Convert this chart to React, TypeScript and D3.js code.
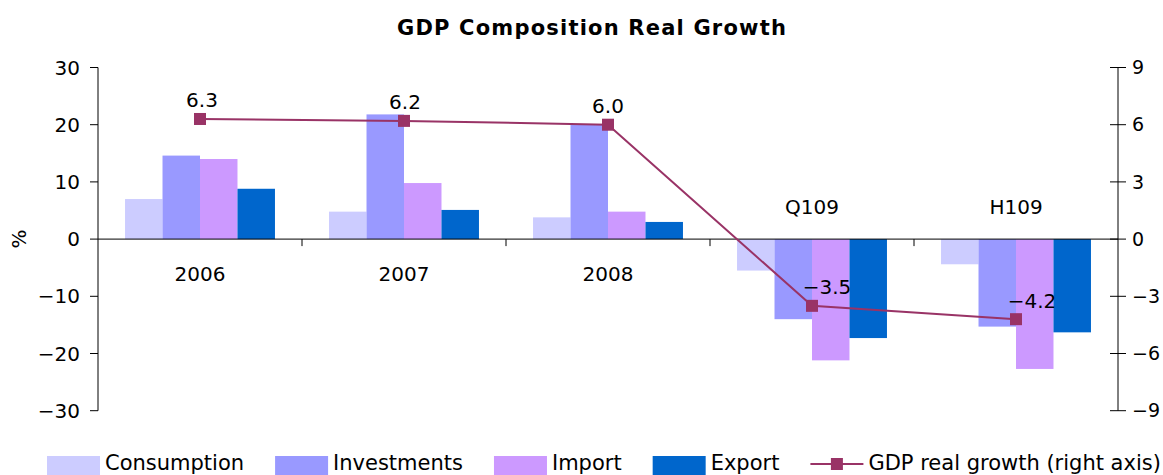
import React from "react";
import * as d3 from "d3";

const categories = ["2006", "2007", "2008", "Q109", "H109"];
const seriesNames = ["Consumption", "Investments", "Import", "Export"];
const consumption = [7.0, 4.8, 3.8, -5.5, -4.4];
const investments = [14.6, 21.8, 20.1, -14.0, -15.3];
const importVals = [14.0, 9.8, 4.8, -21.2, -22.7];
const exportVals = [8.8, 5.1, 3.0, -17.3, -16.3];
const gdpGrowth = [6.3, 6.2, 6.0, -3.5, -4.2];
const leftTicks = [-30, -20, -10, 0, 10, 20, 30];
const rightTicks = [-9, -6, -3, 0, 3, 6, 9];
const lineName = "GDP real growth (right axis)";

const seriesValues = [consumption, investments, importVals, exportVals];
const colors = ["#CCCCFF", "#9999FF", "#CC99FF", "#0066CC"];
const lineColor = "#993366";
// label offsets (dx, dy) relative to marker for data labels
const labelOffsets: [number, number][] = [
  [2, -12],
  [1, -12],
  [0, -12],
  [15, -12],
  [16, -11],
];

const W = 1163;
const H = 475;
const FONT = "'DejaVu Sans', Verdana, sans-serif";

function measure(text: string, font: string): number {
  const c = document.createElement("canvas");
  const ctx = c.getContext("2d");
  if (!ctx) return text.length * 12;
  ctx.font = font;
  return ctx.measureText(text).width;
}

export default function App() {
  const x0 = d3.scaleBand<string>().domain(categories).range([98, 1118]).padding(0);
  const bw = x0.bandwidth();
  const inset = bw * 0.1325;
  const x1 = d3.scaleBand<string>().domain(seriesNames).range([inset, bw - inset]).padding(0);
  const y = d3.scaleLinear().domain([-30, 30]).range([410.7, 67.5]);
  const yR = d3.scaleLinear().domain([-9, 9]).range([410.7, 67.5]);
  const fmt = d3.format(".0f");
  const fmt1 = d3.format(".1f");
  const zeroY = y(0);
  const lineGen = d3
    .line<number>()
    .x((_, i) => (x0(categories[i]) as number) + bw / 2)
    .y((d) => yR(d));

  // legend layout
  const legendFontSize = 21;
  const legendFont = `${legendFontSize}px 'DejaVu Sans'`;
  const legendItems = [...seriesNames, lineName];
  let lx = 47;
  const legendPos = legendItems.map((name) => {
    const start = lx;
    const tw = measure(name, legendFont);
    lx = start + 58 + tw + 31;
    return start;
  });

  return (
    <svg
      width={W}
      height={H}
      style={{ position: "absolute", left: 0, top: 0, background: "#fff" }}
      fontFamily={FONT}
    >
      <rect x={0} y={0} width={W} height={H} fill="#fff" />
      <text
        x={592}
        y={35}
        textAnchor="middle"
        fontSize={21}
        fontWeight="bold"
        letterSpacing={1.2}
        fill="#000"
      >
        GDP Composition Real Growth
      </text>

      {/* bars */}
      {seriesValues.map((vals, si) =>
        vals.map((v, ci) => {
          const bx = (x0(categories[ci]) as number) + (x1(seriesNames[si]) as number);
          return (
            <rect
              key={`${si}-${ci}`}
              x={bx}
              y={Math.min(y(v), zeroY)}
              width={x1.bandwidth()}
              height={Math.abs(y(v) - zeroY)}
              fill={colors[si]}
            />
          );
        })
      )}

      {/* zero line */}
      <line x1={98} x2={1118} y1={zeroY} y2={zeroY} stroke="#000" strokeWidth={1} />
      {categories.slice(1).map((c) => (
        <line
          key={c}
          x1={x0(c) as number}
          x2={x0(c) as number}
          y1={zeroY}
          y2={zeroY + 7}
          stroke="#000"
          strokeWidth={1}
        />
      ))}

      {/* left axis */}
      <line x1={98} x2={98} y1={y(30)} y2={y(-30)} stroke="#000" strokeWidth={1} />
      {leftTicks.map((t) => (
        <g key={t}>
          <line x1={90} x2={98} y1={y(t)} y2={y(t)} stroke="#000" strokeWidth={1} />
          <text x={80} y={y(t)} dy="0.35em" textAnchor="end" fontSize={20} fill="#000">
            {fmt(t)}
          </text>
        </g>
      ))}
      <text
        transform={`translate(26,${zeroY}) rotate(-90)`}
        textAnchor="middle"
        fontSize={20}
        fill="#000"
      >
        %
      </text>

      {/* right axis */}
      <line x1={1118} x2={1118} y1={yR(9)} y2={yR(-9)} stroke="#000" strokeWidth={1} />
      {rightTicks.map((t) => (
        <g key={t}>
          <line x1={1110} x2={1126} y1={yR(t)} y2={yR(t)} stroke="#000" strokeWidth={1} />
          <text x={1132} y={yR(t)} dy="0.35em" textAnchor="start" fontSize={19} fill="#000">
            {fmt(t)}
          </text>
        </g>
      ))}

      {/* category labels */}
      {categories.map((c, i) => {
        const pos = consumption[i] >= 0;
        return (
          <text
            key={c}
            x={(x0(c) as number) + bw / 2}
            y={pos ? zeroY + 42 : zeroY - 25}
            textAnchor="middle"
            fontSize={20}
            fill="#000"
          >
            {c}
          </text>
        );
      })}

      {/* GDP line */}
      <path d={lineGen(gdpGrowth) || ""} fill="none" stroke={lineColor} strokeWidth={2} />
      {gdpGrowth.map((v, i) => {
        const cx = (x0(categories[i]) as number) + bw / 2;
        const cy = yR(v);
        return (
          <g key={i}>
            <rect x={cx - 6} y={cy - 6} width={12} height={12} fill={lineColor} />
            <text
              x={cx + labelOffsets[i][0]}
              y={cy + labelOffsets[i][1]}
              textAnchor="middle"
              fontSize={20}
              fill="#000"
            >
              {fmt1(v)}
            </text>
          </g>
        );
      })}

      {/* legend */}
      {legendItems.map((name, i) => {
        const sx = legendPos[i];
        const isLine = i === legendItems.length - 1;
        return (
          <g key={name}>
            {isLine ? (
              <g>
                <line x1={sx} x2={sx + 53} y1={464} y2={464} stroke={lineColor} strokeWidth={2} />
                <rect x={sx + 26.5 - 6} y={458} width={12} height={12} fill={lineColor} />
              </g>
            ) : (
              <rect x={sx} y={456} width={53} height={19} fill={colors[i]} />
            )}
            <text x={sx + 58} y={470} fontSize={legendFontSize} fill="#000">
              {name}
            </text>
          </g>
        );
      })}
    </svg>
  );
}
